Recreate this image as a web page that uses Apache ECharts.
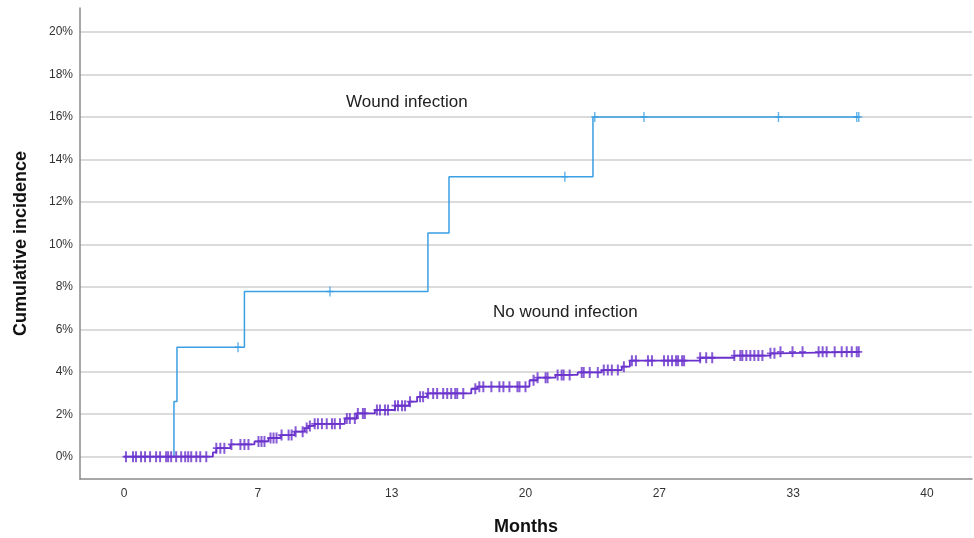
<!DOCTYPE html>
<html>
<head>
<meta charset="utf-8">
<script src="https://cdn.jsdelivr.net/npm/echarts@6/dist/echarts.min.js"></script>
<style>
  html, body { margin: 0; padding: 0; background: #fff; }
  #chart { width: 974px; height: 538px; }
</style>
</head>
<body>
<div id="chart"></div>
<script>
// step points [month, cumulative incidence %]
const woundSteps = [[0, 0], [2.49, 2.6], [2.64, 5.16], [6.0, 7.78], [15.14, 10.53], [16.19, 13.18], [23.36, 16.0], [36.6, 16.0]];
const woundCensored = [5.68, 10.26, 21.96, 23.45, 25.9, 32.6, 36.5, 36.6];

const noWoundSteps = [[0, 0], [4.43, 0.2], [4.6, 0.4], [5.3, 0.58], [6.5, 0.72], [7.2, 0.88], [7.8, 1.02], [8.5, 1.18],
  [9.0, 1.35], [9.2, 1.45], [9.5, 1.55], [11.0, 1.8], [11.6, 2.04], [12.5, 2.2], [13.5, 2.4], [14.2, 2.59],
  [14.6, 2.82], [15.1, 2.98], [17.3, 3.2], [17.6, 3.3], [20.2, 3.6], [20.6, 3.72], [21.5, 3.85], [22.6, 3.97],
  [23.8, 4.08], [24.8, 4.24], [25.2, 4.52], [28.7, 4.66], [30.4, 4.76], [32.2, 4.87], [32.5, 4.94], [36.6, 4.94]];
const noWoundCensored = [0.1, 0.45, 0.6, 0.85, 1.05, 1.3, 1.6, 1.8, 2.1, 2.2, 2.35, 2.6, 2.85, 3.05, 3.2, 3.35, 3.6, 3.8, 4.1,
  4.6, 4.8, 5.0, 5.35, 5.8, 6.0, 6.2, 6.7, 6.85, 7.0, 7.3, 7.45, 7.6, 7.85, 8.2, 8.35, 8.55, 8.9,
  9.1, 9.26, 9.5, 9.66, 9.86, 10.1, 10.36, 10.5, 10.76, 11.1, 11.25, 11.5, 11.65, 11.9, 12.0, 12.6, 12.75, 13.0, 13.15,
  13.5, 13.65, 13.85, 14.0, 14.25, 14.75, 14.9, 15.15, 15.4, 15.6, 15.9, 16.1, 16.3, 16.5, 16.6, 16.9, 17.5, 17.7,
  17.9, 18.3, 18.7, 18.9, 19.2, 19.6, 19.7, 20.0, 20.4, 20.6, 21.0, 21.1, 21.6, 21.8, 21.9, 22.2, 22.8, 22.9, 23.2,
  23.6, 23.9, 24.1, 24.3, 24.6, 24.9, 25.3, 25.5, 26.1, 26.3, 26.9, 27.1, 27.3, 27.5, 27.6, 27.8, 27.9, 28.7, 29.0,
  29.3, 30.4, 30.7, 30.8, 31.0, 31.2, 31.4, 31.6, 31.8, 32.2, 32.4, 32.7, 33.3, 33.8, 34.6, 34.8, 35.0, 35.4, 35.75,
  36.0, 36.25, 36.5, 36.6];

const xTicks = [0, 20 / 3, 40 / 3, 20, 80 / 3, 100 / 3, 40];
const yTicks = [0, 2, 4, 6, 8, 10, 12, 14, 16, 18, 20];

const blue = "#3a9fe3";
const purple = "#6a32cc";
const font = "Liberation Sans, Arial, sans-serif";

// value of a step curve at time t
function valueAt(steps, t) {
  let v = 0;
  for (let p of steps) {
    if (p[0] <= t) v = p[1];
  }
  return v;
}

let option = {
  animation: false,
  textStyle: { fontFamily: font },
  grid: { left: 80, right: 2, top: 8, bottom: 59, outerBoundsMode: "none", containLabel: false },
  xAxis: {
    type: "value",
    min: -2.19,
    max: 42.24,
    name: "Months",
    nameLocation: "middle",
    nameGap: 39,
    nameTextStyle: { fontSize: 18, fontWeight: "bold", color: "#111" },
    axisLine: { show: true, onZero: false, lineStyle: { color: "#8a8a8a", width: 1.5 } },
    axisTick: { show: false, customValues: xTicks },
    splitLine: { show: false },
    axisLabel: {
      customValues: xTicks,
      formatter: v => String(Math.round(v)),
      fontSize: 12,
      color: "#333",
      margin: 9
    }
  },
  yAxis: {
    type: "value",
    min: -1.05,
    max: 21.13,
    name: "Cumulative incidence",
    nameLocation: "middle",
    nameGap: 50,
    nameTextStyle: { fontSize: 18, fontWeight: "bold", color: "#111" },
    axisLine: { show: true, onZero: false, lineStyle: { color: "#8a8a8a", width: 1.5 } },
    axisTick: { show: false, customValues: yTicks },
    splitLine: { show: true, customValues: yTicks, lineStyle: { color: "#cfcfcf", width: 1.5 } },
    axisLabel: {
      customValues: yTicks,
      formatter: v => Math.round(v) + "%",
      fontSize: 12,
      color: "#333",
      margin: 7
    }
  },
  graphic: [
    { type: "text", left: 346, top: 94, style: { text: "Wound infection", fontSize: 17, fill: "#222", fontFamily: font } },
    { type: "text", left: 493, top: 304, style: { text: "No wound infection", fontSize: 17, fill: "#222", fontFamily: font } }
  ],
  series: [
    {
      name: "Wound infection",
      type: "line",
      step: "end",
      data: woundSteps,
      symbol: "none",
      lineStyle: { color: blue, width: 1.5 },
      z: 2
    },
    {
      type: "scatter",
      data: woundCensored.map(t => [t, valueAt(woundSteps, t)]),
      symbol: "path://M3,0H4.5V4.3H7.5V5.7H4.5V10H3V5.7H0V4.3H3Z",
      symbolSize: [7, 10],
      itemStyle: { color: blue },
      z: 3
    },
    {
      name: "No wound infection",
      type: "line",
      step: "end",
      data: noWoundSteps,
      symbol: "none",
      lineStyle: { color: purple, width: 1.8 },
      z: 4
    },
    {
      type: "scatter",
      data: noWoundCensored.map(t => [t, valueAt(noWoundSteps, t)]),
      symbol: "path://M2.5,0H4.5V4.2H7V5.8H4.5V10H2.5V5.8H0V4.2H2.5Z",
      symbolSize: [7, 11],
      itemStyle: { color: purple },
      z: 5
    }
  ]
};

let myChart = echarts.init(document.getElementById("chart"));
myChart.setOption(option);
</script>
</body>
</html>
